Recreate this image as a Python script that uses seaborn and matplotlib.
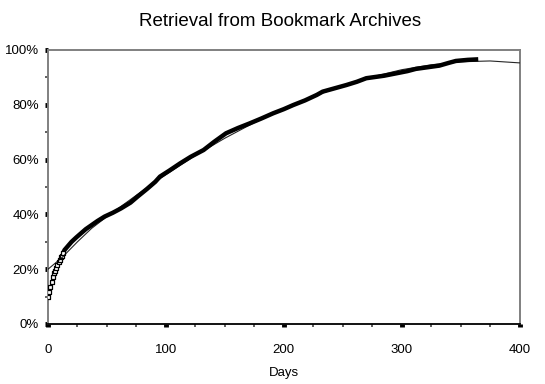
import matplotlib
matplotlib.use("Agg")
import matplotlib.pyplot as plt
import seaborn as sns
import pandas as pd
from matplotlib.ticker import MultipleLocator, PercentFormatter

# Observed retrieval (days, cumulative %)
early_days = [0, 1, 2, 3, 4, 5, 6, 7, 8, 9, 10, 11, 12, 13]
early_pct = [10.0, 11.5, 13.5, 15.5, 17.0, 18.5, 19.5, 20.5, 21.5, 22.5, 23.5, 24.5, 25.0, 26.0]

obs_days = [13, 14, 17, 20, 24, 28, 32, 37, 42, 48, 55, 62, 70, 76, 84, 91, 95, 103,
            112, 121, 132, 141, 151, 161, 171, 181, 191, 200, 208, 218, 228, 233,
            243, 253, 262, 270, 285, 298, 305, 312, 322, 332, 340, 346, 356, 365]
obs_pct = [26.0, 27.0, 28.5, 30.0, 31.6, 33.1, 34.6, 36.1, 37.6, 39.2, 40.6, 42.2, 44.3,
           46.5, 49.3, 51.9, 53.8, 56.0, 58.6, 61.0, 63.5, 66.5, 69.6, 71.5, 73.2, 75.0,
           76.9, 78.4, 79.9, 81.6, 83.6, 84.8, 86.0, 87.2, 88.4, 89.7, 90.6, 91.7, 92.3,
           93.1, 93.7, 94.3, 95.3, 96.0, 96.4, 96.6]

# Fitted trend
fit_days = [0, 12, 25, 37, 50, 75, 100, 125, 150, 175, 200, 225, 250, 275, 300, 325, 350, 375, 400]
fit_pct = [20.0, 24.3, 30.0, 34.9, 39.2, 47.0, 54.5, 61.5, 67.8, 73.5, 78.5, 83.0, 87.0,
           90.2, 92.8, 94.6, 95.7, 96.0, 95.3]

title = "Retrieval from Bookmark Archives"
xlabel = "Days"

sns.set_style("white")
plt.rcParams["font.family"] = ["Liberation Sans", "DejaVu Sans"]
plt.rcParams["text.color"] = "black"
plt.rcParams["axes.labelcolor"] = "black"
plt.rcParams["xtick.color"] = "black"
plt.rcParams["ytick.color"] = "black"

fig = plt.figure(figsize=(5.45, 3.84), dpi=100)
ax = fig.add_axes([48 / 545, 1 - 324 / 384, (519.5 - 48) / 545, (324 - 50) / 384])

df_obs = pd.DataFrame({"d": obs_days, "p": [v / 100 for v in obs_pct]})
df_early = pd.DataFrame({"d": early_days, "p": [v / 100 for v in early_pct]})
df_fit = pd.DataFrame({"d": fit_days, "p": [v / 100 for v in fit_pct]})

sns.lineplot(data=df_obs, x="d", y="p", ax=ax, color="black", lw=3.2,
             estimator=None, sort=False, solid_capstyle="butt")
sns.scatterplot(data=df_early, x="d", y="p", ax=ax, marker="s", s=7,
                facecolor="white", edgecolor="black", linewidth=0.9, zorder=3)
sns.lineplot(data=df_fit, x="d", y="p", ax=ax, color="black", lw=0.8, alpha=0.85,
             estimator=None, sort=False, zorder=4)

ax.set_xlim(0, 400)
ax.set_ylim(0, 1.0)
ax.xaxis.set_major_locator(MultipleLocator(100))
ax.xaxis.set_minor_locator(MultipleLocator(25))
ax.yaxis.set_major_locator(MultipleLocator(0.2))
ax.yaxis.set_minor_locator(MultipleLocator(0.1))
ax.yaxis.set_major_formatter(PercentFormatter(1.0, decimals=0))

ax.tick_params(which="both", bottom=True, left=True, top=False, right=False)
ax.tick_params(which="major", direction="out", length=2.5, width=3.5, color="black",
               labelsize=9.5, labelcolor="black")
ax.tick_params(axis="x", which="major", pad=12)
ax.tick_params(axis="y", which="major", pad=4)
ax.tick_params(which="minor", direction="out", length=2.5, width=1.2, color="#444444")

for side in ["left", "right", "top"]:
    ax.spines[side].set_color("#808080")
    ax.spines[side].set_linewidth(1.4)
ax.spines["bottom"].set_color("black")
ax.spines["bottom"].set_linewidth(1.3)

ax.set_xlabel(xlabel, fontsize=9.5, labelpad=8, color="black")
ax.set_ylabel("")
fig.text(0.514, 0.945, title, ha="center", va="center", fontsize=13.5, color="black")

fig.savefig("out.png", dpi=100)
